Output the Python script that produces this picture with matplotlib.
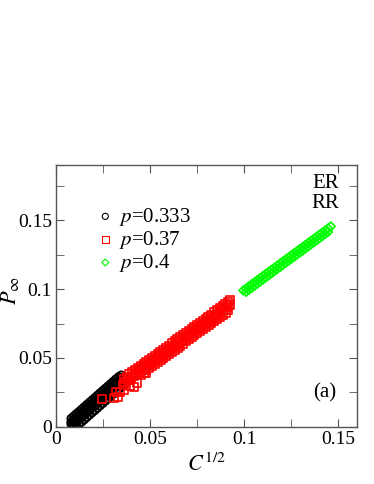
import matplotlib
matplotlib.use("Agg")
import matplotlib.pyplot as plt
from matplotlib.ticker import MultipleLocator

plt.rcParams['font.family'] = ['Liberation Serif', 'DejaVu Serif']
plt.rcParams['mathtext.fontset'] = 'stix'

# --- data --- #

# p = 0.333 (black circles), five rows across the band
x_black = [0.0080, 0.0094, 0.0108, 0.0122, 0.0136, 0.0150, 0.0164, 0.0178, 0.0192, 0.0206,
           0.0220, 0.0234, 0.0248, 0.0262, 0.0276, 0.0290, 0.0304, 0.0318, 0.0332, 0.0346,
           0.0080, 0.0094, 0.0108, 0.0122, 0.0136, 0.0150, 0.0164, 0.0178, 0.0192, 0.0206,
           0.0220, 0.0234, 0.0248, 0.0262, 0.0276, 0.0290, 0.0304, 0.0318, 0.0332, 0.0346,
           0.0080, 0.0094, 0.0108, 0.0122, 0.0136, 0.0150, 0.0164, 0.0178, 0.0192, 0.0206,
           0.0220, 0.0234, 0.0248, 0.0262, 0.0276, 0.0290, 0.0304, 0.0318, 0.0332, 0.0346,
           0.0087, 0.0101, 0.0115, 0.0129, 0.0143, 0.0157, 0.0171, 0.0185, 0.0199, 0.0213,
           0.0227, 0.0241, 0.0255, 0.0269, 0.0283, 0.0297, 0.0311, 0.0325, 0.0339, 0.0353,
           0.0094, 0.0108, 0.0122, 0.0136, 0.0150, 0.0164, 0.0178, 0.0192, 0.0206, 0.0220,
           0.0234, 0.0248, 0.0262, 0.0276, 0.0290, 0.0304, 0.0318, 0.0332, 0.0346, 0.0360]
y_black = [0.0061, 0.0078, 0.0095, 0.0111, 0.0128, 0.0145, 0.0162, 0.0179, 0.0195, 0.0212,
           0.0229, 0.0246, 0.0263, 0.0279, 0.0296, 0.0313, 0.0330, 0.0347, 0.0363, 0.0375,
           0.0036, 0.0053, 0.0070, 0.0086, 0.0103, 0.0120, 0.0137, 0.0154, 0.0170, 0.0187,
           0.0204, 0.0221, 0.0238, 0.0254, 0.0271, 0.0288, 0.0305, 0.0322, 0.0338, 0.0355,
           0.0021, 0.0038, 0.0055, 0.0071, 0.0088, 0.0105, 0.0122, 0.0139, 0.0155, 0.0172,
           0.0189, 0.0206, 0.0223, 0.0239, 0.0256, 0.0273, 0.0290, 0.0307, 0.0323, 0.0340,
           0.0011, 0.0028, 0.0045, 0.0061, 0.0078, 0.0095, 0.0112, 0.0129, 0.0145, 0.0162,
           0.0179, 0.0196, 0.0213, 0.0229, 0.0246, 0.0263, 0.0280, 0.0297, 0.0313, 0.0330,
           0.0010, 0.0014, 0.0020, 0.0036, 0.0053, 0.0070, 0.0087, 0.0104, 0.0120, 0.0137,
           0.0154, 0.0171, 0.0188, 0.0204, 0.0221, 0.0238, 0.0255, 0.0272, 0.0288, 0.0305]

# p = 0.37 (red squares), three rows plus the scattered ones at small C
x_red = [0.0360, 0.0375, 0.0390, 0.0405, 0.0420, 0.0435, 0.0450, 0.0465, 0.0480, 0.0495,
         0.0510, 0.0525, 0.0540, 0.0555, 0.0570, 0.0585, 0.0600, 0.0615, 0.0630, 0.0645,
         0.0660, 0.0675, 0.0690, 0.0705, 0.0720, 0.0735, 0.0750, 0.0765, 0.0780, 0.0795,
         0.0810, 0.0825, 0.0840, 0.0855, 0.0870, 0.0885, 0.0900, 0.0915,
         0.0367, 0.0382, 0.0397, 0.0412, 0.0427, 0.0442, 0.0457, 0.0472, 0.0487, 0.0502,
         0.0517, 0.0532, 0.0547, 0.0562, 0.0577, 0.0592, 0.0607, 0.0622, 0.0637, 0.0652,
         0.0667, 0.0682, 0.0697, 0.0712, 0.0727, 0.0742, 0.0757, 0.0772, 0.0787, 0.0802,
         0.0817, 0.0832, 0.0847, 0.0862, 0.0877, 0.0892, 0.0907, 0.0922,
         0.0450, 0.0465, 0.0480, 0.0495, 0.0510, 0.0525, 0.0540, 0.0555, 0.0570, 0.0585,
         0.0600, 0.0615, 0.0630, 0.0645, 0.0660, 0.0675, 0.0690, 0.0705, 0.0720, 0.0735,
         0.0750, 0.0765, 0.0780, 0.0795, 0.0810, 0.0825, 0.0840, 0.0855, 0.0870, 0.0885,
         0.0900, 0.0915,
         0.0926, 0.0245, 0.0310, 0.0320, 0.0330, 0.0356, 0.0380, 0.0415, 0.0447, 0.0480,
         0.0430, 0.0360, 0.0340, 0.0395]
y_red = [0.0350, 0.0365, 0.0380, 0.0395, 0.0410, 0.0425, 0.0440, 0.0455, 0.0470, 0.0485,
         0.0500, 0.0515, 0.0530, 0.0545, 0.0560, 0.0575, 0.0590, 0.0605, 0.0620, 0.0635,
         0.0650, 0.0665, 0.0680, 0.0695, 0.0710, 0.0725, 0.0740, 0.0755, 0.0770, 0.0785,
         0.0800, 0.0815, 0.0830, 0.0845, 0.0860, 0.0875, 0.0890, 0.0905,
         0.0327, 0.0342, 0.0357, 0.0372, 0.0387, 0.0402, 0.0417, 0.0432, 0.0447, 0.0462,
         0.0477, 0.0492, 0.0507, 0.0522, 0.0537, 0.0552, 0.0567, 0.0582, 0.0597, 0.0612,
         0.0627, 0.0642, 0.0657, 0.0672, 0.0687, 0.0702, 0.0717, 0.0732, 0.0747, 0.0762,
         0.0777, 0.0792, 0.0807, 0.0822, 0.0837, 0.0852, 0.0867, 0.0882,
         0.0380, 0.0395, 0.0410, 0.0425, 0.0440, 0.0455, 0.0470, 0.0485, 0.0500, 0.0515,
         0.0530, 0.0545, 0.0560, 0.0575, 0.0590, 0.0605, 0.0620, 0.0635, 0.0650, 0.0665,
         0.0680, 0.0695, 0.0710, 0.0725, 0.0740, 0.0755, 0.0770, 0.0785, 0.0800, 0.0815,
         0.0830, 0.0845,
         0.0920, 0.0204, 0.0210, 0.0250, 0.0220, 0.0306, 0.0340, 0.0290, 0.0415, 0.0390,
         0.0320, 0.0270, 0.0250, 0.0300]

# p = 0.4 (green diamonds), two rows
x_green = [0.0995, 0.1010, 0.1025, 0.1040, 0.1055, 0.1070, 0.1085, 0.1100, 0.1115, 0.1130,
           0.1145, 0.1160, 0.1175, 0.1190, 0.1205, 0.1220, 0.1235, 0.1250, 0.1265, 0.1280,
           0.1295, 0.1310, 0.1325, 0.1340, 0.1355, 0.1370, 0.1385, 0.1400, 0.1415, 0.1430,
           0.1445, 0.1460,
           0.1010, 0.1025, 0.1040, 0.1055, 0.1070, 0.1085, 0.1100, 0.1115, 0.1130, 0.1145,
           0.1160, 0.1175, 0.1190, 0.1205, 0.1220, 0.1235, 0.1250, 0.1265, 0.1280, 0.1295,
           0.1310, 0.1325, 0.1340, 0.1355, 0.1370, 0.1385, 0.1400, 0.1415, 0.1430, 0.1445]
y_green = [0.0990, 0.1005, 0.1020, 0.1035, 0.1050, 0.1065, 0.1080, 0.1095, 0.1110, 0.1125,
           0.1140, 0.1155, 0.1170, 0.1185, 0.1200, 0.1215, 0.1230, 0.1245, 0.1260, 0.1275,
           0.1290, 0.1305, 0.1320, 0.1335, 0.1350, 0.1365, 0.1380, 0.1395, 0.1410, 0.1425,
           0.1440, 0.1455,
           0.0980, 0.0995, 0.1010, 0.1025, 0.1040, 0.1055, 0.1070, 0.1085, 0.1100, 0.1115,
           0.1130, 0.1145, 0.1160, 0.1175, 0.1190, 0.1205, 0.1220, 0.1235, 0.1250, 0.1265,
           0.1280, 0.1295, 0.1310, 0.1325, 0.1340, 0.1355, 0.1370, 0.1385, 0.1400, 0.1415]

labels = ['$p$=0.333', '$p$=0.37', '$p$=0.4']
tick_vals = [0, 0.05, 0.1, 0.15]
tick_text = ['0', '0.05', '0.1', '0.15']

# --- figure --- #

fig = plt.figure(figsize=(3.74, 4.84), dpi=100)
ax = fig.add_axes([0.150, 0.118, 0.805, 0.541])

ax.scatter(x_black, y_black, s=30, marker='o', facecolors='none', edgecolors='black',
           linewidths=1.3, label=labels[0])
ax.scatter(x_red, y_red, s=34, marker='s', facecolors='none', edgecolors='#ff0000',
           linewidths=1.2, label=labels[1])
ax.scatter(x_green, y_green, s=20, marker='D', facecolors='none', edgecolors='#00ff00',
           linewidths=1.2, label=labels[2])

ax.set_xlim(0, 0.16)
ax.set_ylim(0, 0.19)
ax.set_xticks(tick_vals)
ax.set_xticklabels(tick_text)
ax.set_yticks(tick_vals)
ax.set_yticklabels(tick_text)
ax.xaxis.set_minor_locator(MultipleLocator(0.025))
ax.yaxis.set_minor_locator(MultipleLocator(0.025))

ax.tick_params(which='both', direction='in', top=True, right=True, labelsize=14,
               color='#555555', length=6, pad=3)
for sp in ax.spines.values():
    sp.set_color('#555555')
    sp.set_linewidth(1.0)

ax.set_xlabel(r'$C^{\mathit{1/2}}$', fontsize=16, labelpad=4)
ax.set_ylabel(r'$P_\infty$', fontsize=16)
ax.yaxis.set_label_coords(-0.115, 0.52)

leg = ax.legend(loc='upper left', bbox_to_anchor=(0.07, 0.90), frameon=False, fontsize=15,
                handletextpad=0.0, handlelength=1.3, labelspacing=0.05, markerscale=0.8,
                borderpad=0.2)
for h in leg.legend_handles:
    h.set_linewidth(0.8)

ax.text(0.94, 0.93, 'ER', transform=ax.transAxes, fontsize=15, ha='right', va='center')
ax.text(0.94, 0.855, 'RR', transform=ax.transAxes, fontsize=15, ha='right', va='center')
ax.text(0.93, 0.13, '(a)', transform=ax.transAxes, fontsize=15, ha='right', va='center')

fig.savefig('out.png', dpi=100)
